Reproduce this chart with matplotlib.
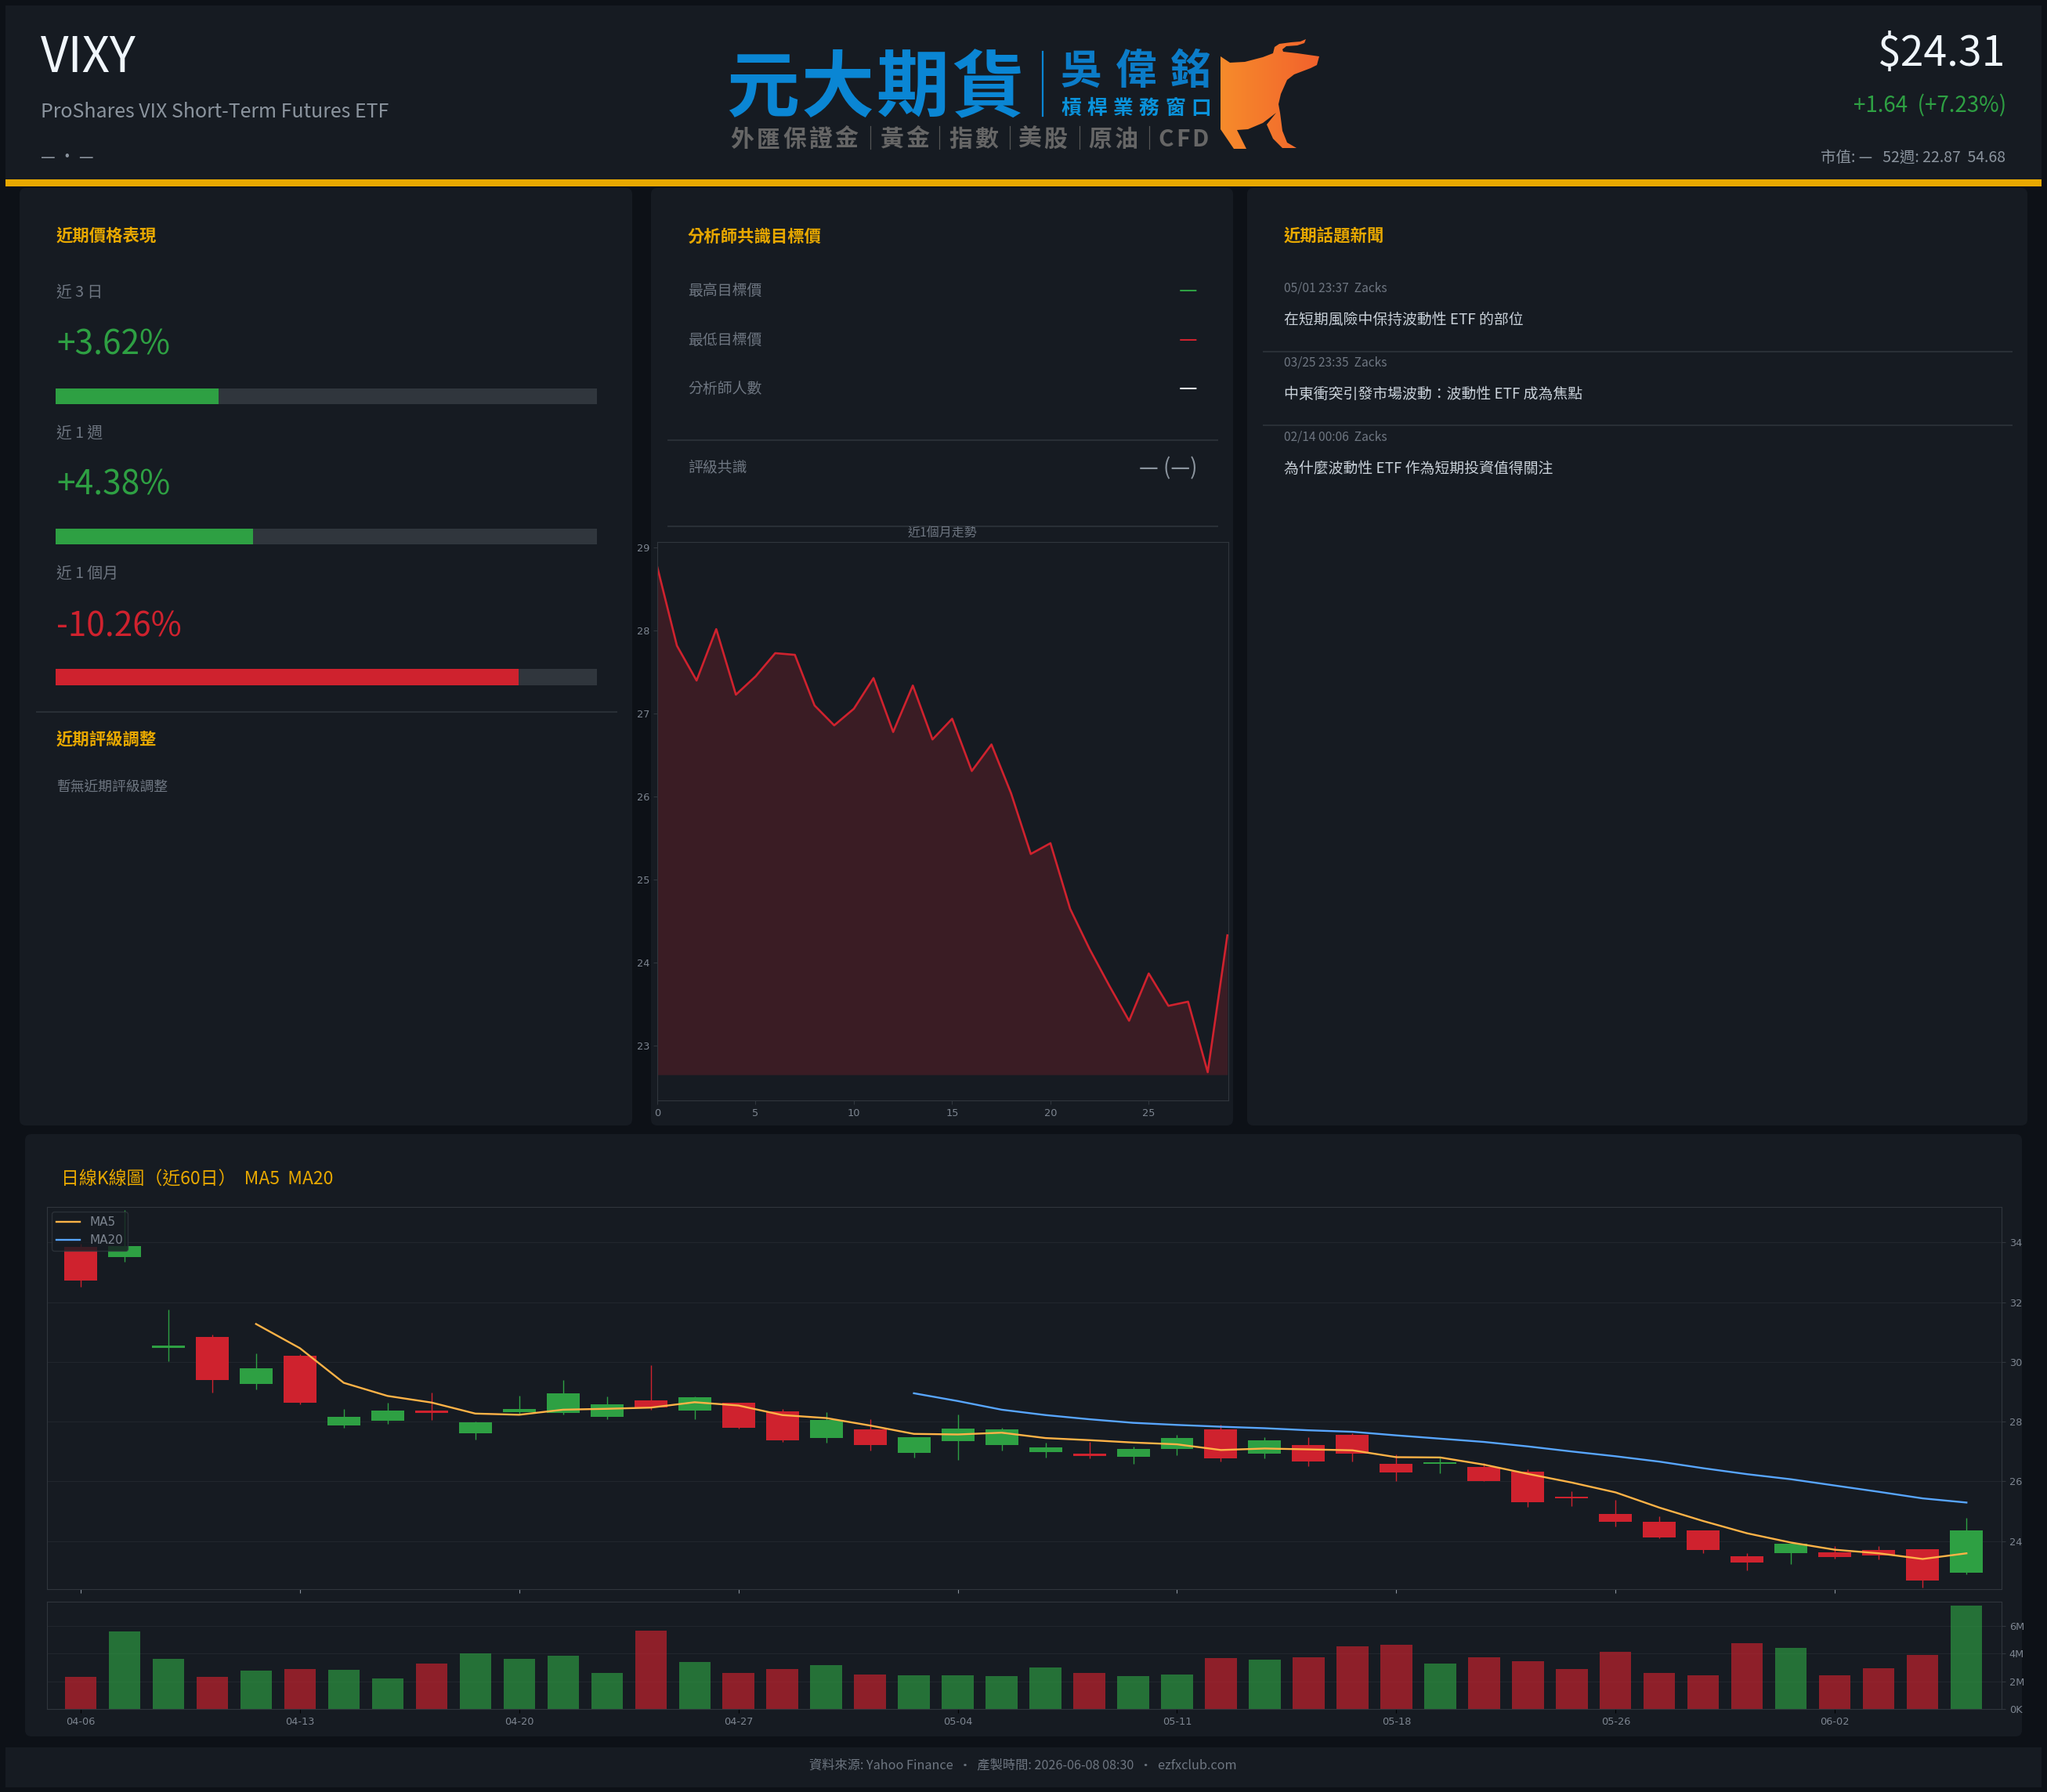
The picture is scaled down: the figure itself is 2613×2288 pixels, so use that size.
import numpy as np
import matplotlib
matplotlib.use('Agg')
import matplotlib.pyplot as plt
from matplotlib.colors import LinearSegmentedColormap
from matplotlib.patches import FancyBboxPatch, Polygon, Rectangle

W, H = 2613, 2288
CJK = ['Noto Sans CJK TC', 'DejaVu Sans']

BG = '#0d1117'
CARD = '#161b22'
LINE = '#30363d'
GRID = '#21262d'
MUTED = '#8b949e'
DIM = '#6e7681'
TICK = '#7d8590'
TEXT = '#c9d1d9'
WHITE = '#f0f6fc'
GOLD = '#e8a800'
GREEN = '#2ea043'
RED = '#cf222e'
MA5_COLOR = '#ffb347'
MA20_COLOR = '#58a6ff'

# daily candles
opens = [33.85, 33.50, 30.48, 30.83, 29.25, 30.21, 27.87, 28.02, 28.37, 27.62, 28.32,
         28.30, 28.16, 28.71, 28.37, 28.64, 28.35, 27.45, 27.74, 26.95, 27.34, 27.22,
         26.98, 26.93, 26.83, 27.08, 27.74, 26.93, 27.22, 27.56, 26.59, 26.59, 26.47,
         26.32, 25.48, 24.90, 24.64, 24.35, 23.48, 23.59, 23.61, 23.70, 23.72, 22.93]
highs = [33.95, 35.09, 31.76, 30.92, 30.29, 30.27, 28.42, 28.64, 28.97, 28.01, 28.87,
         29.39, 28.85, 29.89, 28.85, 28.64, 28.42, 28.32, 28.08, 27.48, 28.23, 27.79,
         27.29, 27.32, 27.17, 27.56, 27.89, 27.48, 27.48, 27.61, 26.90, 26.79, 26.60,
         26.39, 25.67, 25.38, 24.83, 24.35, 23.59, 23.90, 23.82, 23.82, 23.72, 24.78]
lows = [32.52, 33.36, 30.01, 28.97, 29.08, 28.57, 27.79, 27.92, 28.06, 27.40, 28.23,
        28.23, 28.08, 28.40, 28.08, 27.77, 27.32, 27.29, 27.03, 26.79, 26.71, 27.03,
        26.79, 26.76, 26.59, 26.88, 26.66, 26.76, 26.50, 26.66, 26.01, 26.27, 26.01,
        25.14, 25.17, 24.48, 24.10, 23.59, 23.01, 23.22, 23.41, 23.38, 22.45, 22.88]
closes = [32.72, 33.89, 30.55, 29.40, 29.79, 28.62, 28.16, 28.37, 28.30, 27.98, 28.42,
          28.95, 28.59, 28.48, 28.81, 27.79, 27.38, 28.06, 27.22, 27.48, 27.77, 27.74,
          27.14, 26.85, 27.08, 27.45, 26.76, 27.37, 26.66, 26.93, 26.30, 26.65, 26.01,
          25.29, 25.43, 24.64, 24.11, 23.70, 23.27, 23.90, 23.46, 23.51, 22.67, 24.35]
volumes = [2.30, 5.57, 3.59, 2.30, 2.76, 2.86, 2.81, 2.19, 3.27, 4.03, 3.59, 3.84, 2.59,
           5.62, 3.38, 2.59, 2.86, 3.14, 2.46, 2.41, 2.41, 2.35, 2.97, 2.59, 2.35, 2.46,
           3.65, 3.54, 3.70, 4.51, 4.62, 3.27, 3.70, 3.43, 2.86, 4.11, 2.59, 2.41, 4.73,
           4.38, 2.41, 2.92, 3.89, 7.43]
ma5 = [31.27, 30.46, 29.30, 28.86, 28.64, 28.27, 28.23, 28.40, 28.43, 28.47, 28.65,
       28.54, 28.22, 28.12, 27.87, 27.59, 27.57, 27.63, 27.45, 27.38, 27.30, 27.24,
       27.05, 27.10, 27.07, 27.04, 26.81, 26.80, 26.56, 26.25, 25.96, 25.63, 25.12,
       24.67, 24.26, 23.95, 23.71, 23.59, 23.40, 23.59]
ma20 = [28.95, 28.69, 28.40, 28.22, 28.08, 27.96, 27.89, 27.83, 27.78, 27.71, 27.66,
        27.54, 27.43, 27.32, 27.17, 27.00, 26.84, 26.66, 26.44, 26.24, 26.07, 25.86,
        25.65, 25.43, 25.29]
ma5_start = 4
ma20_start = 19
date_ticks = [0, 5, 10, 15, 20, 25, 30, 35, 40]
date_labels = ['04-06', '04-13', '04-20', '04-27', '05-04', '05-11', '05-18', '05-26', '06-02']
price_ticks = [24, 26, 28, 30, 32, 34]
vol_ticks = [0, 2, 4, 6]
vol_labels = ['0K', '2M', '4M', '6M']

# one month trend
month_close = [28.77, 27.82, 27.40, 28.02, 27.23, 27.45, 27.73, 27.71, 27.10, 26.86,
               27.06, 27.43, 26.78, 27.34, 26.69, 26.94, 26.31, 26.63, 26.04, 25.31,
               25.44, 24.65, 24.16, 23.72, 23.30, 23.87, 23.48, 23.53, 22.68, 24.33]
month_fill_base = 22.65
month_yticks = [23, 24, 25, 26, 27, 28, 29]
month_xticks = [0, 5, 10, 15, 20, 25]

# performance cards
perf_labels = ['近 3 日', '近 1 週', '近 1 個月']
perf_values = [3.62, 4.38, -10.26]
perf_scale = 12

analyst_rows = ['最高目標價', '最低目標價', '分析師人數']
analyst_colors = [GREEN, RED, WHITE]

news_dates = ['05/01 23:37  Zacks', '03/25 23:35  Zacks', '02/14 00:06  Zacks']
news_titles = ['在短期風險中保持波動性 ETF 的部位',
               '中東衝突引發市場波動：波動性 ETF 成為焦點',
               '為什麼波動性 ETF 作為短期投資值得關注']

plt.rcParams['font.family'] = 'DejaVu Sans'

fig = plt.figure(figsize=(W / 100, H / 100), dpi=100, facecolor=BG)

# page layer, works in pixels
page = fig.add_axes([0, 0, 1, 1])
page.set_xlim(0, W)
page.set_ylim(H, 0)
page.axis('off')


def card(x0, y0, x1, y1, radius=8):
    page.add_patch(FancyBboxPatch((x0 + radius, y0 + radius), x1 - x0 - 2 * radius, y1 - y0 - 2 * radius,
                                  boxstyle='round,pad=%d,rounding_size=%d' % (radius, radius),
                                  fc=CARD, ec='none'))


def label(x, y, s, size, color=MUTED, ha='left', weight='normal'):
    # the CJK font sits a little high when centred, push it down with size
    page.text(x, y + 2 + size * 0.08, s, fontsize=size, color=color, ha=ha, va='center', family=CJK,
              fontweight=weight)


def rule(x0, x1, y):
    page.plot([x0, x1], [y, y], color=LINE, lw=1.1, solid_capstyle='butt')


def make_axes(left, top, right, bottom):
    return fig.add_axes([left / W, 1 - bottom / H, (right - left) / W, (bottom - top) / H], facecolor=CARD)


# header
page.add_patch(Rectangle((7, 7), 2599, 222, fc=CARD, ec='none'))
page.add_patch(Rectangle((7, 229), 2599, 9, fc=GOLD, ec='none'))
label(52, 68, 'VIXY', 44.5, WHITE)
label(52, 140, 'ProShares VIX Short-Term Futures ETF', 18, MUTED)
label(52, 198, '— · —', 15, MUTED)
label(2560, 63, '$24.31', 38.5, WHITE, ha='right')
label(2561, 132, '+1.64  (+7.23%)', 20, GREEN, ha='right')
label(2560, 198, '市值: —   52週: 22.87  54.68', 14, MUTED, ha='right')

# logo
for i, ch in enumerate('元大期貨'):
    label(930 + 44 + i * 95.5, 107, ch, 67, '#0a86d4', ha='center', weight='bold')
page.plot([1331, 1331], [66, 148], color='#0a86d4', lw=1.6)
for i, ch in enumerate('吳偉銘'):
    label(1354 + 26 + i * 70, 86, ch, 38, '#0b7cc8', ha='center', weight='bold')
for i, ch in enumerate('槓桿業務窗口'):
    label(1354 + 13 + i * 33.2, 135, ch, 18.5, '#0a93dc', ha='center', weight='bold')
tag_groups = [('外匯保證金', 931, 33.2), ('黃金', 1122, 33), ('指數', 1210, 33), ('美股', 1298, 33),
              ('原油', 1388, 33), ('CFD', 1477, 22)]
for word, x_start, pitch in tag_groups:
    for i, ch in enumerate(word):
        label(x_start + pitch / 2 + i * pitch, 174, ch, 21.5, '#666666', ha='center', weight='bold')
for x in [1111, 1199, 1289, 1378, 1467]:
    page.plot([x, x], [161, 190], color='#555555', lw=0.9)

bull_outline = [(1558, 72), (1570, 80), (1589, 79), (1612, 73), (1625, 68), (1627, 60), (1633, 56), (1648, 54),
                (1660, 53), (1667, 50), (1665, 55), (1656, 58), (1642, 59), (1637, 63), (1638, 66), (1656, 68),
                (1684, 72), (1681, 83), (1673, 87), (1652, 95), (1643, 102), (1635, 120), (1632, 133), (1634, 144),
                (1637, 167), (1643, 182), (1655, 189), (1637, 189), (1625, 177), (1617, 159), (1629, 144),
                (1612, 157), (1593, 165), (1579, 166), (1591, 190), (1575, 190), (1558, 165)]
bull = Polygon(bull_outline, closed=True, fc='none', ec='none')
page.add_patch(bull)
bull_cmap = LinearSegmentedColormap.from_list('bull', ['#f68b2b', '#f2622d'])
im = page.imshow(np.linspace(0, 1, 64).reshape(1, -1), extent=[1558, 1684, 190, 50], cmap=bull_cmap,
                 aspect='auto', zorder=2)
im.set_clip_path(bull)
page.set_xlim(0, W)
page.set_ylim(H, 0)

# left card
card(25, 240, 807, 1437)
label(72, 299, '近期價格表現', 15.4, GOLD, weight='bold')
perf_rows = [(370, 436, 496, 516), (551, 615, 675, 695), (729, 796, 854, 875)]
for name, value, row in zip(perf_labels, perf_values, perf_rows):
    color = GREEN if value > 0 else RED
    label(72, row[0], name, 14.2, DIM)
    label(72, row[1], '%+.2f%%' % value, 30.5, color)
    page.add_patch(Rectangle((71, row[2]), 691, row[3] - row[2], fc=LINE, ec='none'))
    page.add_patch(Rectangle((71, row[2]), 691 * abs(value) / perf_scale, row[3] - row[2], fc=color, ec='none'))
rule(46, 788, 909)
label(72, 941, '近期評級調整', 15.4, GOLD, weight='bold')
label(72, 1001, '暫無近期評級調整', 12.8, DIM)

# middle card
card(831, 240, 1574, 1437)
label(878, 299, '分析師共識目標價', 15.4, GOLD, weight='bold')
for name, color, y in zip(analyst_rows, analyst_colors, [368, 431, 493]):
    label(878, y, name, 13.6, DIM)
    label(1528, y, '—', 19, color, ha='right')
rule(852, 1555, 562)
label(878, 595, '評級共識', 13.6, DIM)
label(1528, 595, '— (—)', 20, MUTED, ha='right')
rule(852, 1555, 672)
label(1203, 678, '近1個月走勢', 11.5, DIM, ha='center')

# right card
card(1592, 240, 2588, 1437)
label(1639, 299, '近期話題新聞', 15.4, GOLD, weight='bold')
for date, title, y0, y1 in zip(news_dates, news_titles, [365, 460, 555], [405, 500, 595]):
    label(1639, y0, date, 11.2, DIM)
    label(1639, y1, title, 13.6, TEXT)
rule(1612, 2569, 449)
rule(1612, 2569, 543)

# kline card
card(32, 1448, 2581, 2217)
label(78, 1503, '日線K線圖（近60日）  MA5  MA20', 16.5, GOLD)

# footer
page.add_patch(Rectangle((7, 2231), 2599, 51, fc=CARD, ec='none'))
label(W / 2 - 1, 2251, '資料來源: Yahoo Finance  ·  產製時間: 2026-06-08 08:30  ·  ezfxclub.com', 11.7, DIM, ha='center')

# one month area chart
ax = make_axes(839, 692, 1568, 1405)
xs = np.arange(len(month_close))
ax.fill_between(xs, month_close, month_fill_base, color=RED, alpha=0.2, lw=0)
ax.plot(xs, month_close, color=RED, lw=1.9)
ax.set_xlim(0, 29.05)
ax.set_ylim(22.34, 29.07)
ax.set_xticks(month_xticks)
ax.set_yticks(month_yticks)
ax.tick_params(labelcolor=TICK, color=LINE, labelsize=9.3, length=3.5, width=0.8)
for s in ax.spines.values():
    s.set_color(LINE)

# candles
kx = np.arange(len(closes))
candle_colors = [GREEN if c >= o else RED for o, c in zip(opens, closes)]
ax_k = make_axes(59.5, 1541, 2555, 2029)
ax_k.vlines(kx, lows, highs, colors=candle_colors, lw=1.0, zorder=2)
ax_k.bar(kx, np.abs(np.array(closes) - np.array(opens)), bottom=np.minimum(opens, closes), width=0.75,
         color=candle_colors, zorder=3)
ax_k.plot(kx[ma5_start:], ma5, color=MA5_COLOR, lw=1.7, label='MA5', zorder=4)
ax_k.plot(kx[ma20_start:], ma20, color=MA20_COLOR, lw=1.7, label='MA20', zorder=4)
ax_k.set_xlim(-0.775, 43.8)
ax_k.set_ylim(22.39, 35.19)
ax_k.set_xticks(date_ticks)
ax_k.set_xticklabels([])
ax_k.set_yticks(price_ticks)
ax_k.yaxis.tick_right()
ax_k.tick_params(labelcolor=TICK, labelsize=9.3, length=3.5, width=0.8)
ax_k.tick_params(color=MUTED, axis='x')
ax_k.tick_params(color=LINE, axis='y')
ax_k.grid(axis='y', color=GRID, lw=0.8)
ax_k.set_axisbelow(True)
for s in ax_k.spines.values():
    s.set_color(LINE)
ax_k.legend(loc='upper left', fontsize=11, facecolor=CARD, edgecolor=LINE, labelcolor=TICK,
            borderaxespad=0.4).set_zorder(6)

# volume
ax_v = make_axes(59.5, 2044.5, 2555, 2182)
ax_v.bar(kx, volumes, width=0.72, color=candle_colors, alpha=0.65, zorder=2)
ax_v.set_xlim(-0.775, 43.8)
ax_v.set_ylim(0, 7.76)
ax_v.set_xticks(date_ticks)
ax_v.set_xticklabels(date_labels)
ax_v.set_yticks(vol_ticks)
ax_v.set_yticklabels(vol_labels)
ax_v.yaxis.tick_right()
ax_v.tick_params(labelcolor=TICK, labelsize=9.3, length=3.5, width=0.8)
ax_v.tick_params(color='black', axis='x')
ax_v.tick_params(color=LINE, axis='y')
ax_v.grid(axis='y', color=GRID, lw=0.8)
ax_v.set_axisbelow(True)
for s in ax_v.spines.values():
    s.set_color(LINE)

fig.savefig('out.png', dpi=100, facecolor=BG)
